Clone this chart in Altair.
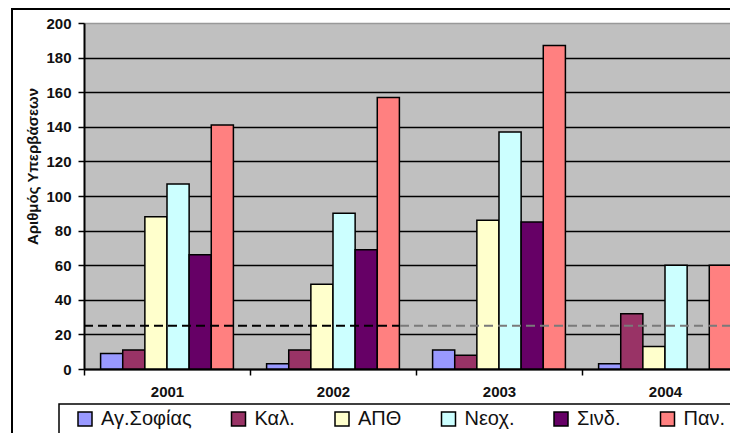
import altair as alt
import pandas as pd

years = ["2001", "2002", "2003", "2004"]
stations = ["Αγ.Σοφίας", "Καλ.", "ΑΠΘ", "Νεοχ.", "Σινδ.", "Παν."]
colors = ["#9999FF", "#993366", "#FFFFCC", "#CCFFFF", "#660066", "#FF8080"]

ag_sofias = [9, 3, 11, 3]
kal = [11, 11, 8, 32]
apth = [88, 49, 86, 13]
neox = [107, 90, 137, 60]
sind = [66, 69, 85, None]
pan = [141, 157, 187, 60]

limit_value = [25]
y_ticks = [0, 20, 40, 60, 80, 100, 120, 140, 160, 180, 200]

rows = []
for name, vals in zip(stations, [ag_sofias, kal, apth, neox, sind, pan]):
    for yr, v in zip(years, vals):
        if v is not None:
            rows.append({"year": yr, "station": name, "value": v})
df = pd.DataFrame(rows)
limit_df = pd.DataFrame({"value": limit_value})
one = pd.DataFrame({"a": [0]})

FONT = "Liberation Sans"
W, H = 646, 346

y_axis = alt.Axis(
    values=y_ticks, tickCount=20, labelOverlap=False,
    title="Αριθμός Υπερβάσεων", titleFont=FONT, titleFontSize=15,
    titleFontWeight="bold", titleColor="#111", titleX=-52, titleY=143,
    titleAngle=-90, titleAlign="center", titleBaseline="middle",
    labelFont=FONT, labelFontSize=15, labelFontWeight="bold", labelColor="#111",
    labelPadding=7, tickSize=6, tickColor="black", tickWidth=1.5,
    domainColor="black", domainWidth=2,
    grid=True, gridWidth=1.6,
    gridColor={"condition": {"test": "datum.value === 200", "value": "#999999"}, "value": "black"},
)
y_scale = alt.Scale(domain=[0, 200], nice=False)

bars = alt.Chart(df).mark_bar(stroke="black", strokeWidth=1.5, clip=True).encode(
    x=alt.X(
        "year:N", sort=years,
        scale=alt.Scale(domain=years, range=[0, 664], paddingInner=0, paddingOuter=0),
        axis=alt.Axis(
            title=None, labelAngle=0, tickBand="extent", tickSize=6, tickColor="black",
            tickWidth=1.5, domainColor="black", domainWidth=2, labelFont=FONT,
            labelFontSize=15, labelFontWeight="bold", labelColor="#111", labelPadding=9,
            grid=False,
        ),
    ),
    xOffset=alt.XOffset(
        "station:N", sort=stations,
        scale=alt.Scale(domain=stations, paddingInner=0, paddingOuter=0.75),
    ),
    y=alt.Y("value:Q", scale=y_scale, axis=y_axis),
    color=alt.Color(
        "station:N", sort=stations,
        scale=alt.Scale(domain=stations, range=colors),
        legend=alt.Legend(
            title=None, orient="none", legendX=-9, legendY=386, direction="horizontal",
            labelFont=FONT, labelFontSize=20, labelColor="#111", labelOffset=6,
            symbolType="square", symbolSize=196, symbolStrokeColor="black",
            symbolStrokeWidth=1.5, symbolOpacity=1, columnPadding=36.5, padding=0,
            gridAlign="each",
        ),
    ),
)

limit_black = alt.Chart(limit_df).mark_rule(
    color="black", strokeWidth=2, strokeDash=[9, 5]
).encode(y=alt.Y("value:Q", scale=y_scale, axis=y_axis), x=alt.value(0), x2=alt.value(316))

limit_gray = alt.Chart(limit_df).mark_rule(
    color="#7a7a7a", strokeWidth=2, strokeDash=[9, 5]
).encode(y=alt.Y("value:Q", scale=y_scale, axis=y_axis), x=alt.value(316), x2=alt.value(W))

frame = alt.Chart(one).mark_rect(filled=False, stroke="black", strokeWidth=2).encode(
    x=alt.value(-72), x2=alt.value(720), y=alt.value(-14), y2=alt.value(480)
)

legend_box = alt.Chart(one).mark_rect(filled=False, stroke="black", strokeWidth=1.5).encode(
    x=alt.value(-25), x2=alt.value(720), y=alt.value(381), y2=alt.value(480)
)

chart = alt.layer(bars, limit_black, limit_gray, frame, legend_box).properties(
    width=W, height=H,
    autosize=alt.AutoSizeParams(type="none"),
    padding={"left": 76, "top": 15, "right": 0, "bottom": 64},
    background="white",
).configure_view(fill="#C0C0C0", stroke="#909090", strokeWidth=1)

chart.save("out.html", embed_options={"renderer": "svg", "actions": False})
